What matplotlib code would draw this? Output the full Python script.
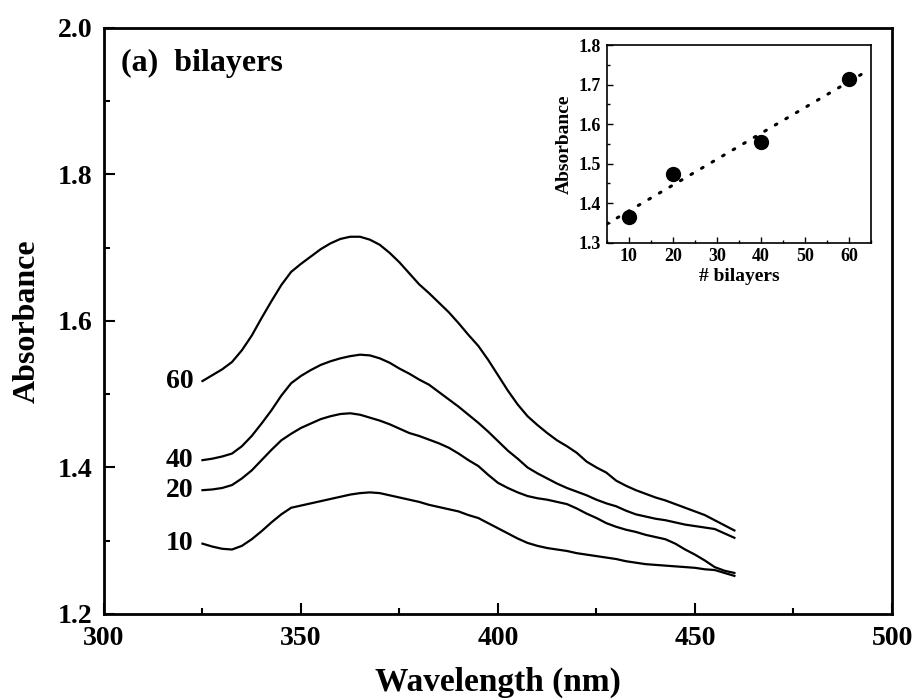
import numpy as np
import matplotlib
matplotlib.use("Agg")
import matplotlib.pyplot as plt
from matplotlib.ticker import MultipleLocator

plt.rcParams["font.family"] = ["Liberation Serif", "DejaVu Serif"]
plt.rcParams["font.weight"] = "bold"
plt.rcParams["axes.labelweight"] = "bold"

# UV-vis spectra of the multilayer films, sampled every 2.5 nm
wavelength = [325, 327.5, 330, 332.5, 335, 337.5, 340, 342.5, 345, 347.5,
              350, 352.5, 355, 357.5, 360, 362.5, 365, 367.5, 370, 372.5,
              375, 377.5, 380, 382.5, 385, 387.5, 390, 392.5, 395, 397.5,
              400, 402.5, 405, 407.5, 410, 412.5, 415, 417.5, 420, 422.5,
              425, 427.5, 430, 432.5, 435, 437.5, 440, 442.5, 445, 447.5,
              450, 452.5, 455, 457.5, 460]

abs_60 = [1.518, 1.526, 1.534, 1.544, 1.560, 1.580, 1.604, 1.627, 1.649, 1.667,
          1.678, 1.688, 1.698, 1.706, 1.712, 1.715, 1.715, 1.711, 1.704, 1.693,
          1.680, 1.665, 1.650, 1.638, 1.625, 1.612, 1.597, 1.581, 1.566, 1.547,
          1.526, 1.505, 1.486, 1.470, 1.458, 1.447, 1.437, 1.429, 1.420, 1.408,
          1.400, 1.393, 1.382, 1.375, 1.369, 1.364, 1.359, 1.355, 1.350, 1.345,
          1.340, 1.335, 1.328, 1.321, 1.314]
abs_40 = [1.410, 1.412, 1.415, 1.419, 1.429, 1.443, 1.460, 1.478, 1.498, 1.515,
          1.525, 1.533, 1.540, 1.545, 1.549, 1.552, 1.554, 1.553, 1.549, 1.543,
          1.535, 1.528, 1.520, 1.513, 1.503, 1.493, 1.483, 1.472, 1.461, 1.449,
          1.436, 1.423, 1.412, 1.400, 1.392, 1.385, 1.378, 1.372, 1.367, 1.362,
          1.356, 1.351, 1.347, 1.341, 1.336, 1.333, 1.330, 1.328, 1.325, 1.322,
          1.320, 1.318, 1.316, 1.310, 1.304]
abs_20 = [1.369, 1.370, 1.372, 1.376, 1.385, 1.396, 1.410, 1.424, 1.437, 1.446,
          1.454, 1.460, 1.466, 1.470, 1.473, 1.474, 1.472, 1.468, 1.464, 1.459,
          1.453, 1.447, 1.443, 1.438, 1.433, 1.427, 1.419, 1.410, 1.402, 1.390,
          1.379, 1.372, 1.366, 1.361, 1.358, 1.356, 1.353, 1.350, 1.344, 1.337,
          1.331, 1.324, 1.319, 1.315, 1.312, 1.308, 1.305, 1.302, 1.296, 1.288,
          1.281, 1.273, 1.264, 1.259, 1.256]
abs_10 = [1.296, 1.292, 1.289, 1.288, 1.293, 1.302, 1.313, 1.325, 1.336, 1.345,
          1.348, 1.351, 1.354, 1.357, 1.360, 1.363, 1.365, 1.366, 1.365, 1.362,
          1.359, 1.356, 1.353, 1.349, 1.346, 1.343, 1.340, 1.335, 1.331, 1.324,
          1.317, 1.310, 1.303, 1.297, 1.293, 1.290, 1.288, 1.286, 1.283, 1.281,
          1.279, 1.277, 1.275, 1.272, 1.270, 1.268, 1.267, 1.266, 1.265, 1.264,
          1.263, 1.261, 1.260, 1.256, 1.252]

bilayers = [10, 20, 40, 60]
spectra = [abs_10, abs_20, abs_40, abs_60]
peak_abs = [max(s) for s in spectra]

fig = plt.figure(figsize=(9.16, 7.0), dpi=100)
ax = fig.add_axes([0.1135, 0.1229, 0.8603, 0.8371])

for n, s in zip(bilayers, spectra):
    ax.plot(wavelength, s, color="black", lw=1.6, solid_joinstyle="round")
    ax.text(wavelength[0] - 2.3, s[0], str(n), ha="right", va="center",
            fontsize=20, fontweight="bold")

ax.set_xlim(300, 500)
ax.set_ylim(1.2, 2.0)
ax.xaxis.set_major_locator(MultipleLocator(50))
ax.xaxis.set_minor_locator(MultipleLocator(25))
ax.yaxis.set_major_locator(MultipleLocator(0.2))
ax.yaxis.set_minor_locator(MultipleLocator(0.1))
ax.tick_params(which="both", direction="in", top=False, right=False, width=1.5)
ax.tick_params(which="major", length=8, labelsize=20)
ax.tick_params(axis="x", which="major", pad=9)
ax.tick_params(axis="y", which="major", pad=8)
ax.tick_params(which="minor", length=4)
for sp in ax.spines.values():
    sp.set_linewidth(2)

ax.set_xlabel("Wavelength (nm)", fontsize=24, labelpad=11)
ax.set_ylabel("Absorbance", fontsize=23, labelpad=12)
ax.text(0.022, 0.940, "(a)  bilayers", transform=ax.transAxes, fontsize=23,
        fontweight="bold", ha="left", va="center")

# inset: peak absorbance against number of bilayers with linear fit
ins = fig.add_axes([0.6623, 0.6533, 0.2886, 0.2824])
slope, icpt = np.polyfit(bilayers, peak_abs, 1)
fit_x = np.array([5, 64])
ins.plot(fit_x, slope * fit_x + icpt, color="black", lw=2.2,
         linestyle=(0, (0.6, 3.4)), dash_capstyle="round")
ins.plot(bilayers, peak_abs, "o", color="black", ms=10)
ins.set_xlim(5, 65)
ins.set_ylim(1.3, 1.8)
ins.xaxis.set_major_locator(MultipleLocator(10))
ins.xaxis.set_minor_locator(MultipleLocator(5))
ins.yaxis.set_major_locator(MultipleLocator(0.1))
ins.yaxis.set_minor_locator(MultipleLocator(0.05))
ins.tick_params(which="both", direction="in", top=False, right=False, width=1)
ins.tick_params(which="major", length=4, labelsize=13, pad=4)
ins.tick_params(which="minor", length=2.5)
for sp in ins.spines.values():
    sp.set_linewidth(1.2)
ins.set_xlabel("# bilayers", fontsize=14, labelpad=2)
ins.set_ylabel("Absorbance", fontsize=14, labelpad=4)

fig.savefig("out.png", dpi=100)
